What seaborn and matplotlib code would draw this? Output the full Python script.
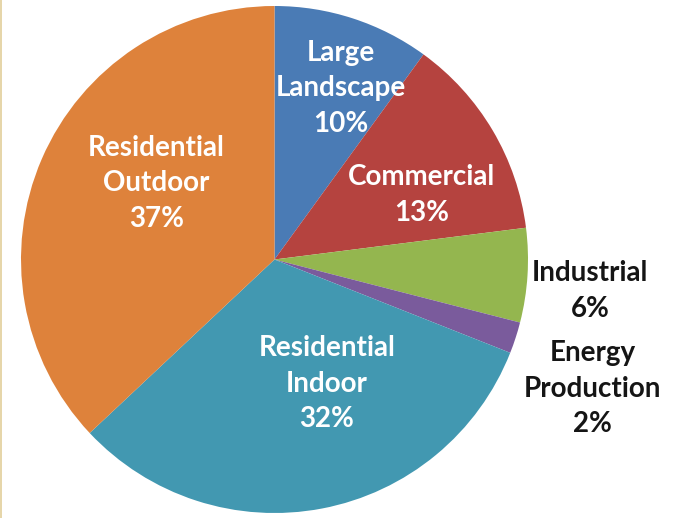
import matplotlib
matplotlib.use("Agg")
import matplotlib.pyplot as plt
import seaborn as sns
from matplotlib.patches import Rectangle

# Water use by sector (percent of total)
sectors = ["Large\nLandscape", "Commercial", "Industrial", "Energy\nProduction",
           "Residential\nIndoor", "Residential\nOutdoor"]
shares = [10, 13, 6, 2, 32, 37]
colors = ["#4a7bb5", "#b5433f", "#94b64f", "#7a5b9c", "#4298b1", "#de823b"]

# label placement (data units, pie radius = 1) and text colour
label_xy = [(0.26, 0.675), (0.58, 0.255), (1.245, -0.124), (1.255, -0.51),
            (0.207, -0.49), (-0.465, 0.30)]
label_color = ["white", "white", "#151515", "#151515", "white", "white"]

sns.set_theme(style="white")
plt.rcParams["font.family"] = ["Lato", "DejaVu Sans"]

W, H = 679, 518
fig = plt.figure(figsize=(W / 100, H / 100), dpi=100)
fig.patch.set_facecolor("white")

cx, cy, r = 274.5, 259.5, 253.5
ax = fig.add_axes([(cx - r) / W, (H - cy - r) / H, 2 * r / W, 2 * r / H])
ax.pie(shares, colors=colors, startangle=90, counterclock=False,
       radius=1, wedgeprops=dict(linewidth=0, antialiased=True))
ax.set_xlim(-1, 1)
ax.set_ylim(-1, 1)
ax.set_aspect("equal")
ax.axis("off")

for name, val, (x, y), tc in zip(sectors, shares, label_xy, label_color):
    ax.text(x, y, f"{name}\n{val}%", ha="center", va="center",
            fontsize=20, fontweight="bold", color=tc, linespacing=1.45,
            clip_on=False)

# thin tan rule on the left edge
fig.add_artist(Rectangle((0, 0), 2 / W, 1, transform=fig.transFigure,
                         facecolor="#e6d6aa", edgecolor="none"))

fig.savefig("out.png", dpi=100)
